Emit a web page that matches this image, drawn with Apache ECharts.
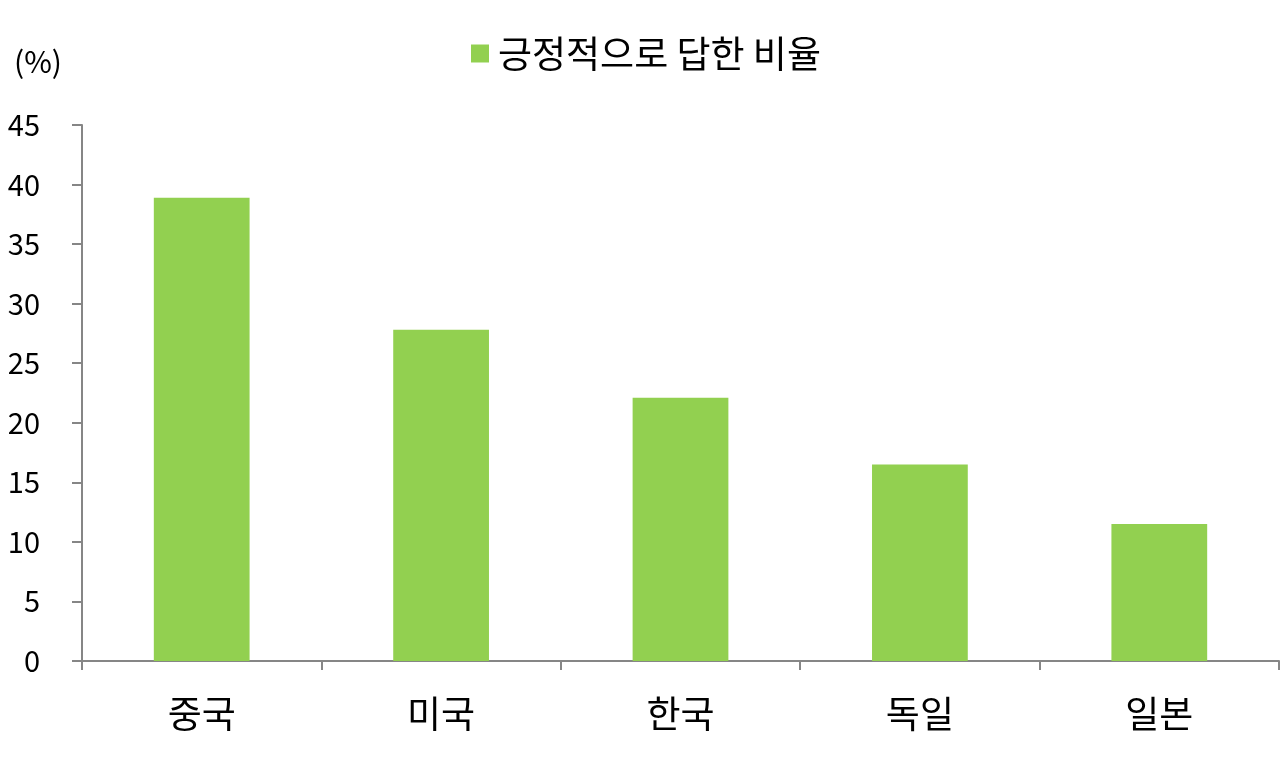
<!DOCTYPE html>
<html>
<head>
<meta charset="utf-8">
<script src="https://cdn.jsdelivr.net/npm/echarts@6/dist/echarts.min.js"></script>
<style>
  html, body { margin: 0; padding: 0; background: #fff; }
  #main { width: 1280px; height: 768px; }
</style>
</head>
<body>
<div id="main"></div>
<script>
// categories and values
const countries = ['중국', '미국', '한국', '독일', '일본'];
const positiveShare = [38.9, 27.8, 22.1, 16.5, 11.5];
const seriesName = '긍정적으로 답한 비율';

const FONT = '"Noto Sans CJK KR", "Noto Sans", sans-serif';

const chart = echarts.init(document.getElementById('main'));

chart.setOption({
    backgroundColor: '#fff',
    animation: false,
    title: {
        text: '(%)',
        left: 9,
        top: 42,
        textStyle: { fontFamily: FONT, fontSize: 30, fontWeight: 'normal', color: '#000' }
    },
    legend: {
        data: [seriesName],
        left: 466,
        top: 30,
        icon: 'rect',
        itemWidth: 18,
        itemHeight: 18,
        itemGap: 10,
        textStyle: { fontFamily: FONT, fontSize: 37, color: '#000', padding: [0, 0, 0, 4] }
    },
    grid: { left: 82, right: 1, top: 125, bottom: 107 },
    xAxis: {
        type: 'category',
        data: countries,
        axisLine: { lineStyle: { color: '#868686', width: 2 } },
        axisTick: { show: true, length: 9, lineStyle: { color: '#868686', width: 2 } },
        axisLabel: { fontFamily: FONT, fontSize: 37, color: '#000', margin: 34 }
    },
    yAxis: {
        type: 'value',
        min: 0,
        max: 45,
        interval: 5,
        axisLine: { show: true, lineStyle: { color: '#868686', width: 2 } },
        axisTick: { show: true, length: 10, lineStyle: { color: '#868686', width: 2 } },
        splitLine: { show: false },
        axisLabel: { fontFamily: FONT, fontSize: 29, color: '#000', margin: 42 }
    },
    series: [{
        name: seriesName,
        type: 'bar',
        data: positiveShare,
        barWidth: '40%',
        itemStyle: { color: '#92d050' }
    }]
});
</script>
</body>
</html>
